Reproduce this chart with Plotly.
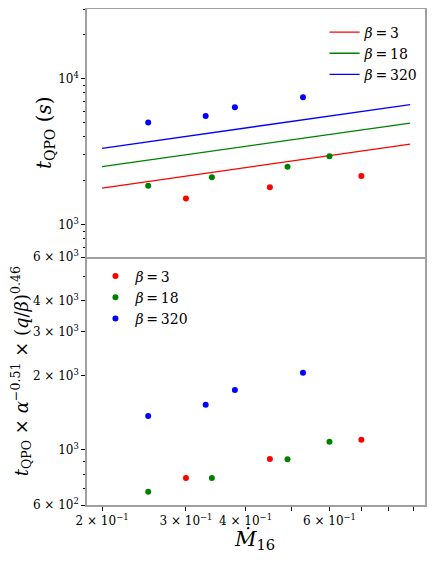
import numpy as np
import plotly.graph_objects as go

# ---- data ----
betas = ["3", "18", "320"]
colors = ["#ff0000", "#008000", "#0000ff"]

mdot_b3 = [0.30, 0.45, 0.70]
tqpo_b3 = [1507, 1801, 2152]
scaled_b3 = [771, 919, 1100]

mdot_b18 = [0.25, 0.34, 0.49, 0.60]
tqpo_b18 = [1849, 2108, 2496, 2937]
scaled_b18 = [679, 771, 917, 1080]

mdot_b320 = [0.25, 0.33, 0.38, 0.528]
tqpo_b320 = [5000, 5546, 6358, 7448]
scaled_b320 = [1371, 1523, 1745, 2050]

fit_x = [0.20, 0.886]
fit_b3 = [1781, 3565]
fit_b18 = [2496, 4966]
fit_b320 = [3333, 6637]

x_tickvals = [0.2, 0.3, 0.4, 0.6]
x_ticktext = ["2 × 10<sup>−1</sup>", "3 × 10<sup>−1</sup>", "4 × 10<sup>−1</sup>", "6 × 10<sup>−1</sup>"]
x_minor = [0.5, 0.7, 0.8, 0.9]

top_tickvals = [1000, 10000]
top_ticktext = ["10<sup>3</sup>", "10<sup>4</sup>"]
top_minor = [600, 700, 800, 900, 2000, 3000, 4000, 5000, 6000, 7000, 8000, 9000, 20000, 30000]

bot_tickvals = [600, 1000, 2000, 3000, 4000, 6000]
bot_ticktext = ["6 × 10<sup>2</sup>", "10<sup>3</sup>", "2 × 10<sup>3</sup>", "3 × 10<sup>3</sup>",
                "4 × 10<sup>3</sup>", "6 × 10<sup>3</sup>"]
bot_minor = [700, 800, 900, 5000]

mdots = [mdot_b3, mdot_b18, mdot_b320]
tqpos = [tqpo_b3, tqpo_b18, tqpo_b320]
scaleds = [scaled_b3, scaled_b18, scaled_b320]
fits = [fit_b3, fit_b18, fit_b320]

FONT = "DejaVu Serif"
fig = go.Figure()

for b, c, f in zip(betas, colors, fits):
    fig.add_trace(go.Scatter(x=fit_x, y=f, mode="lines", line=dict(color=c, width=1.3),
                             name=f"<i>β</i>\u2009=\u2009{b}", xaxis="x2", yaxis="y2", legend="legend"))
for b, c, m, t in zip(betas, colors, mdots, tqpos):
    fig.add_trace(go.Scatter(x=m, y=t, mode="markers", marker=dict(color=c, size=6),
                             showlegend=False, xaxis="x2", yaxis="y2"))
for b, c, m, s in zip(betas, colors, mdots, scaleds):
    fig.add_trace(go.Scatter(x=m, y=s, mode="markers", marker=dict(color=c, size=6),
                             name=f"<i>β</i>\u2009=\u2009{b}", xaxis="x", yaxis="y", legend="legend2"))

xr = [np.log10(0.186), np.log10(0.952)]
frame = dict(showline=True, linecolor="#a0a0a0", linewidth=1.5, mirror=True, showgrid=False,
             zeroline=False, automargin=False)
tickfont = dict(family=FONT, size=12, color="black")

fig.update_layout(
    width=428, height=556, autosize=False,
    margin=dict(l=79, r=11, t=1, b=59, pad=0),
    plot_bgcolor="white", paper_bgcolor="white",
    font=dict(family=FONT, color="black"),
    xaxis=dict(type="log", range=xr, domain=[0, 1], anchor="y",
               **{**frame, "mirror": False},
               tickvals=x_tickvals, ticktext=x_ticktext, ticks="outside", ticklen=4,
               tickcolor="black", tickfont=tickfont,
               minor=dict(tickvals=x_minor, ticks="outside", ticklen=4, tickcolor="black")),
    yaxis=dict(type="log", range=[np.log10(600), np.log10(6000)], domain=[0, 0.5], anchor="x", **frame,
               tickvals=bot_tickvals, ticktext=bot_ticktext, ticks="outside", ticklen=4,
               tickcolor="black", tickfont=tickfont,
               minor=dict(tickvals=bot_minor, ticks="outside", ticklen=2, tickcolor="black")),
    xaxis2=dict(type="log", range=xr, domain=[0, 1], anchor="y2", matches="x", **frame,
                showticklabels=False, ticks=""),
    yaxis2=dict(type="log", range=[np.log10(600), np.log10(30000)], domain=[0.5, 1], anchor="x2", **frame,
                tickvals=top_tickvals, ticktext=top_ticktext, ticks="outside", ticklen=4,
                tickcolor="black", tickfont=tickfont,
                minor=dict(tickvals=top_minor, ticks="outside", ticklen=2, tickcolor="black")),
    legend=dict(x=0.703, y=0.985, xanchor="left", yanchor="top", bgcolor="rgba(0,0,0,0)",
                font=dict(family=FONT, size=14), tracegroupgap=0),
    legend2=dict(x=0.025, y=0.493, xanchor="left", yanchor="top", bgcolor="rgba(0,0,0,0)",
                 font=dict(family=FONT, size=14), tracegroupgap=0),
    annotations=[
        dict(text="<i>t</i><sub>QPO</sub> (<i>s</i>)", xref="paper", yref="paper",
             x=-0.124, y=0.75, xanchor="center", yanchor="middle", textangle=-90,
             showarrow=False, font=dict(family=FONT, size=20)),
        dict(text="<i>t</i><sub>QPO</sub> × <i>α</i><sup>−0.51</sup> × (<i>q</i>/<i>β</i>)<sup>0.46</sup>",
             xref="paper", yref="paper", x=-0.186, y=0.27, xanchor="center", yanchor="middle",
             xshift=-3, textangle=-90, showarrow=False, font=dict(family=FONT, size=18)),
        dict(text="<i>Ṁ</i><sub>16</sub>", xref="paper", yref="paper", x=0.497, y=-0.071,
             xanchor="center", yanchor="middle", showarrow=False, font=dict(family=FONT, size=21)),
    ],
)

fig.write_html("out.html")
